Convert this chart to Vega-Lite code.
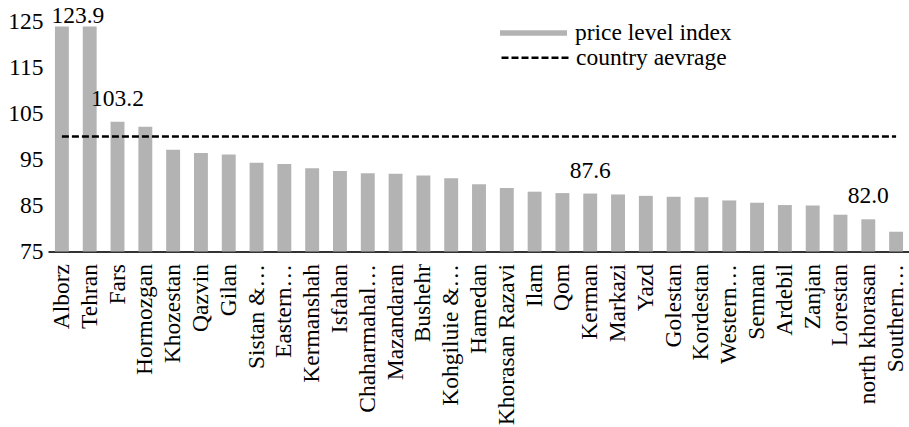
{
  "$schema": "https://vega.github.io/schema/vega-lite/v6.json",
  "autosize": {"type": "none"},
  "width": 862,
  "height": 230,
  "padding": {"left": 48, "top": 21.5, "right": 0, "bottom": 175.5},
  "background": "white",
  "config": {
    "view": {"stroke": null},
    "font": "serif"
  },
  "data": {
    "values": [
      {"province": "Alborz", "value": 123.9},
      {"province": "Tehran", "value": 123.9},
      {"province": "Fars", "value": 103.2},
      {"province": "Hormozgan", "value": 102.1},
      {"province": "Khozestan", "value": 97.1},
      {"province": "Qazvin", "value": 96.4},
      {"province": "Gilan", "value": 96.1},
      {"province": "Sistan &…", "value": 94.3},
      {"province": "Eastern…", "value": 94.0},
      {"province": "Kermanshah", "value": 93.1},
      {"province": "Isfahan", "value": 92.5},
      {"province": "Chaharmahal…", "value": 92.0},
      {"province": "Mazandaran", "value": 91.9},
      {"province": "Bushehr", "value": 91.5},
      {"province": "Kohgiluie &…", "value": 90.9},
      {"province": "Hamedan", "value": 89.6},
      {"province": "Khorasan Razavi", "value": 88.8},
      {"province": "Ilam", "value": 88.0},
      {"province": "Qom", "value": 87.7},
      {"province": "Kerman", "value": 87.6},
      {"province": "Markazi", "value": 87.4},
      {"province": "Yazd", "value": 87.1},
      {"province": "Golestan", "value": 86.9},
      {"province": "Kordestan", "value": 86.8},
      {"province": "Western…", "value": 86.1},
      {"province": "Semnan", "value": 85.6},
      {"province": "Ardebil", "value": 85.1},
      {"province": "Zanjan", "value": 85.0},
      {"province": "Lorestan", "value": 83.0},
      {"province": "north khorasan", "value": 82.0},
      {"province": "Southern…", "value": 79.3}
    ]
  },
  "encoding": {
    "x": {
      "field": "province",
      "type": "nominal",
      "sort": null,
      "scale": {"paddingInner": 0.5, "paddingOuter": 0.25},
      "axis": {
        "title": null,
        "labelFont": "Liberation Serif",
        "labelColor": "#000",
        "labelAngle": -90,
        "labelFontSize": 23.5,
        "labelPadding": 12,
        "labelLimit": 400,
        "ticks": false,
        "domainColor": "#333",
        "domainWidth": 2
      }
    }
  },
  "layer": [
    {
      "mark": {"type": "bar"},
      "encoding": {
        "y": {
          "field": "value",
          "type": "quantitative",
          "scale": {"domain": [75, 125], "zero": false, "nice": false},
          "axis": {
            "title": null,
            "labelFont": "Liberation Serif",
            "labelColor": "#000",
            "values": [75, 85, 95, 105, 115, 125],
            "grid": false,
            "domain": false,
            "ticks": false,
            "labelPadding": 5,
            "labelFontSize": 23.5
          }
        },
        "y2": {"datum": 75},
        "color": {
          "datum": "price level index",
          "scale": {"range": ["#b3b3b3"]},
          "legend": {
            "title": null,
            "orient": "none",
            "legendX": 452,
            "legendY": -22,
            "padding": 0,
            "symbolType": "M-1,-0.08H1V0.08H-1Z",
            "symbolSize": 4489,
            "symbolStrokeWidth": 0,
            "symbolOpacity": 1,
            "labelFont": "Liberation Serif",
            "labelColor": "#000",
            "labelFontSize": 23.5,
            "labelOffset": 8
          }
        }
      }
    },
    {
      "mark": {"type": "line", "color": "#000", "strokeWidth": 2.5},
      "encoding": {
        "y": {"datum": 100},
        "strokeDash": {
          "datum": "country aevrage",
          "scale": {"range": [[7, 3]]},
          "legend": {
            "title": null,
            "orient": "none",
            "legendX": 452,
            "legendY": 1.3,
            "padding": 0,
            "symbolType": "stroke",
            "symbolSize": 4489,
            "symbolStrokeWidth": 2.5,
            "symbolStrokeColor": "#000",
            "labelFont": "Liberation Serif",
            "labelColor": "#000",
            "labelFontSize": 23.5,
            "labelOffset": 6
          }
        }
      }
    },
    {
      "transform": [{"filter": {"field": "province", "oneOf": ["Fars", "Kerman", "north khorasan"]}}],
      "mark": {"type": "text", "font": "Liberation Serif", "fontSize": 23.5, "baseline": "alphabetic", "dy": -16, "color": "#000"},
      "encoding": {
        "y": {"field": "value", "type": "quantitative"},
        "text": {"field": "value", "type": "quantitative", "format": ".1f"}
      }
    },
    {
      "transform": [{"filter": {"field": "province", "equal": "Alborz"}}],
      "mark": {"type": "text", "font": "Liberation Serif", "fontSize": 23.5, "baseline": "alphabetic", "dy": -3.5, "dx": 16, "color": "#000"},
      "encoding": {
        "y": {"field": "value", "type": "quantitative"},
        "text": {"field": "value", "type": "quantitative", "format": ".1f"}
      }
    }
  ]
}
